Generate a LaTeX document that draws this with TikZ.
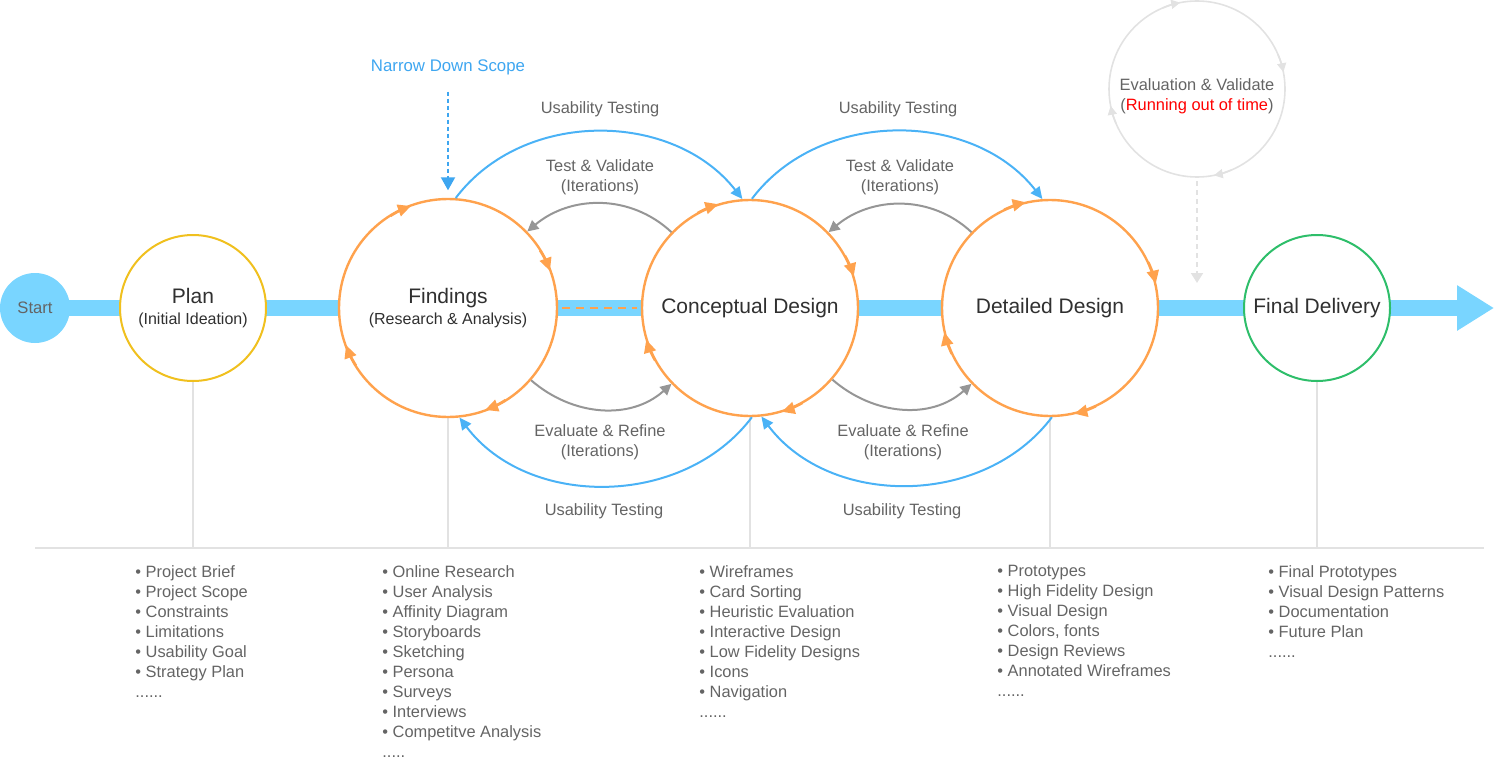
\documentclass[tikz,border=0pt]{standalone}
\usepackage{fontspec}
\setmainfont{Liberation Sans}
\usepackage{tikz}
\usetikzlibrary{arrows.meta, backgrounds}

\definecolor{barblue}{RGB}{121,213,255}
\definecolor{arcblue}{RGB}{74,178,246}
\definecolor{scopeblue}{RGB}{62,166,240}
\definecolor{stageorange}{RGB}{255,162,77}
\definecolor{planyellow}{RGB}{240,192,30}
\definecolor{finalgreen}{RGB}{46,190,106}
\definecolor{loopgray}{RGB}{150,150,150}
\definecolor{palegray}{RGB}{226,226,226}
\definecolor{labelgray}{RGB}{100,100,100}
\definecolor{titlegray}{RGB}{48,48,48}

\newcommand{\subline}{\fontsize{8}{10.5}\selectfont}

\tikzset{
  stage/.style={circle, draw=stageorange, line width=1.2pt, fill=white, inner sep=0pt,
    minimum size=108pt, align=center, text=titlegray, font=\fontsize{10.5}{10.5}\selectfont},
  arclabel/.style={align=center, text=labelgray, font=\fontsize{8.2}{10}\selectfont},
  steplist/.style={anchor=north west, align=left, inner sep=0pt, text=labelgray,
    font=\fontsize{8.2}{10}\selectfont},
  usability/.style={draw=arcblue, line width=1pt, -{Triangle[length=6pt,width=5.5pt]}},
  loopback/.style={draw=loopgray, line width=1pt, -{Triangle[length=5.5pt,width=5.5pt]}},
  spin/.style={line width=1.2pt, -{Triangle[length=6.5pt,width=6pt]}},
  guideline/.style={draw=palegray, line width=1pt},
}

\begin{document}
\begin{tikzpicture}[x=0.5pt, y=0.5pt]
  \useasboundingbox (0,0) rectangle (1494,-765);
  \coordinate (barend) at (1494,-308);
  \coordinate (ruleL) at (35,-548);
  \coordinate (ruleR) at (1484,-548);

  % stages on the axis
  \node[circle, fill=barblue, minimum size=35pt, inner sep=0pt, text=labelgray,
    font=\fontsize{8.3}{10}\selectfont] (start) at (35,-308) {Start};
  \node[stage, draw=planyellow, line width=1pt, minimum size=73pt] (plan) at (193,-308)
    {Plan\\{\subline (Initial Ideation)}};
  \node[stage, minimum size=109pt] (find) at (448,-308)
    {Findings\\{\subline (Research \& Analysis)}};
  \node[stage] (concept) at (750,-308) {Conceptual Design};
  \node[stage] (detail) at (1050,-308) {Detailed Design};
  \node[stage, draw=finalgreen, line width=1pt, minimum size=73pt] (final) at (1317,-308)
    {Final Delivery};

  \begin{scope}[on background layer]
    \draw[barblue, line width=8pt, -{Triangle[length=18.5pt,width=21.5pt]}] (start.center) -- (barend);
    \foreach \n in {plan,find,concept,detail,final}
      \draw[guideline] (\n.south) -- (\n.south |- ruleL);
  \end{scope}
  \draw[guideline] (ruleL) -- (ruleR);

  \draw[stageorange, line width=1pt, dash pattern=on 4pt off 3pt, shorten <=2pt, shorten >=2pt] (find) -- (concept);

  % clockwise marks on the stage circles
  \foreach \n/\o in {find/20, concept/17, detail/13} {
    \foreach \a in {0,90,180,270}
      \draw[stageorange, spin] ([shift={(\o+\a+12:54.25pt)}]\n.center)
        arc[start angle=\o+\a+12, end angle=\o+\a, radius=54.25pt];
  }

  % loops between the stages
  \draw[usability] (find.86) to[out=53, in=128] (concept.94);
  \draw[usability] (concept.89) to[out=53, in=128] (detail.94);
  \draw[usability] (concept.-89) to[out=-127, in=-53] (find.-84);
  \draw[usability] (detail.-89) to[out=-127, in=-53] (concept.-84);
  \draw[loopback] (concept.136) to[out=137, in=40] (find.44);
  \draw[loopback] (detail.136) to[out=137, in=40] (concept.44);
  \draw[loopback] (find.-41) to[out=-41, in=-138] (concept.-136);
  \draw[loopback] (concept.-41) to[out=-41, in=-138] (detail.-136);

  \node[arclabel] (ut1) at (600,-109) {Usability Testing};
  \node[arclabel] (tv1) at (600,-177) {Test \& Validate\\(Iterations)};
  \node[arclabel] (er1) at (600,-442) {Evaluate \& Refine\\(Iterations)};
  \node[arclabel] (ut2) at (604,-511) {Usability Testing};
  \node[arclabel] (ut3) at (898,-109) {Usability Testing};
  \node[arclabel] (tv2) at (900,-177) {Test \& Validate\\(Iterations)};
  \node[arclabel] (er2) at (903,-442) {Evaluate \& Refine\\(Iterations)};
  \node[arclabel] (ut4) at (902,-511) {Usability Testing};

  % scope hint
  \node[arclabel, text=scopeblue, font=\fontsize{8.4}{10}\selectfont] (scope) at (448,-67) {Narrow Down Scope};
  \draw[scopeblue, line width=1pt, dash pattern=on 2pt off 1.5pt, shorten <=5pt, shorten >=3.75pt,
    -{Triangle[length=6.5pt,width=7pt]}] (scope) -- (find);

  % evaluation loop (faded)
  \node[circle, draw=palegray, line width=0.8pt, minimum size=88pt, inner sep=0pt] (eval) at (1197,-89) {};
  \node[arclabel] (evaltext) at (1197,-96) {Evaluation \& Validate\\(\textcolor{red}{Running out of time})};
  \foreach \a in {11,101,191,281}
    \draw[palegray, line width=0.8pt, -{Triangle[length=4.5pt,width=4.5pt]}] ([shift={(\a+12:44pt)}]eval.center)
      arc[start angle=\a+12, end angle=\a, radius=44pt];
  \coordinate (evaltip) at (1197,-283);
  \draw[palegray, line width=1pt, dash pattern=on 2.5pt off 2pt, shorten <=1.5pt,
    -{Triangle[length=5pt,width=6pt]}] (eval) -- (evaltip);

  % activities per stage
  \node[steplist] (planlist) at (135,-565) {\textbullet\ Project Brief\\\textbullet\ Project Scope\\\textbullet\ Constraints\\\textbullet\ Limitations\\\textbullet\ Usability Goal\\\textbullet\ Strategy Plan\\......};
  \node[steplist] (findlist) at (382,-565) {\textbullet\ Online Research\\\textbullet\ User Analysis\\\textbullet\ Affinity Diagram\\\textbullet\ Storyboards\\\textbullet\ Sketching\\\textbullet\ Persona\\\textbullet\ Surveys\\\textbullet\ Interviews\\\textbullet\ Competitve Analysis\\.....};
  \node[steplist] (conceptlist) at (699,-565) {\textbullet\ Wireframes\\\textbullet\ Card Sorting\\\textbullet\ Heuristic Evaluation\\\textbullet\ Interactive Design\\\textbullet\ Low Fidelity Designs\\\textbullet\ Icons\\\textbullet\ Navigation\\......};
  \node[steplist] (detaillist) at (997,-565) {\textbullet\ Prototypes\\\textbullet\ High Fidelity Design\\\textbullet\ Visual Design\\\textbullet\ Colors, fonts\\\textbullet\ Design Reviews\\\textbullet\ Annotated Wireframes\\......};
  \node[steplist] (finallist) at (1268,-565) {\textbullet\ Final Prototypes\\\textbullet\ Visual Design Patterns\\\textbullet\ Documentation\\\textbullet\ Future Plan\\......};
\end{tikzpicture}
\end{document}
